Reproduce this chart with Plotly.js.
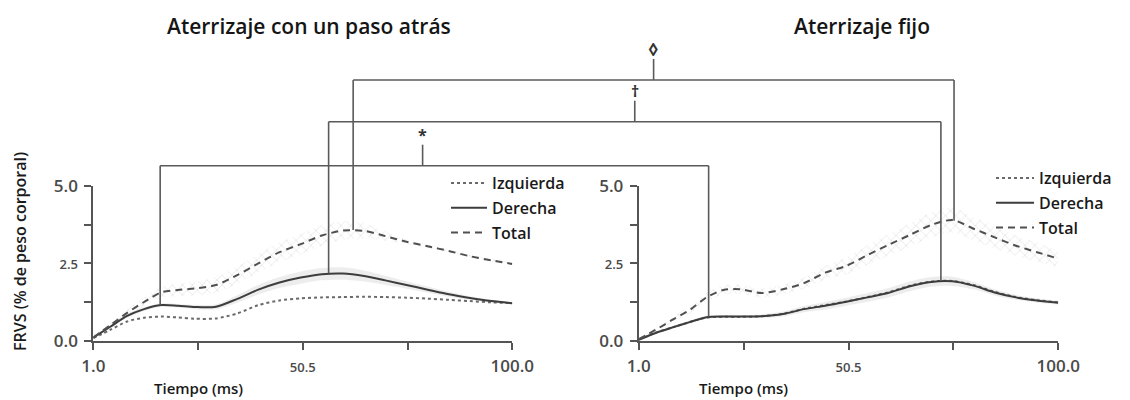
<!DOCTYPE html>
<html><head><meta charset="utf-8">
<script src="https://cdn.plot.ly/plotly-3.0.1.min.js"></script>
<style>body{margin:0;background:#fff}</style>
</head><body>
<div id="chart" style="width:1130px;height:400px"></div>
<script>
// ---- data ----
const tiempo = [1,5,9,13,17,21,25,30,35,40,45,50,55,60,65,70,75,80,85,90,95,100];
const seriesNames = ['Izquierda','Derecha','Total'];

// Aterrizaje con un paso atrás
const pasoIzquierda = [0.08,0.35,0.62,0.74,0.78,0.75,0.71,0.72,0.88,1.15,1.30,1.37,1.40,1.41,1.42,1.41,1.39,1.36,1.32,1.28,1.24,1.21];
const pasoDerecha   = [0.10,0.45,0.80,1.02,1.15,1.13,1.09,1.10,1.35,1.65,1.88,2.04,2.15,2.17,2.09,1.95,1.80,1.65,1.50,1.38,1.28,1.21];
const pasoTotal     = [0.10,0.50,0.90,1.25,1.56,1.64,1.69,1.80,2.12,2.50,2.86,3.12,3.40,3.56,3.55,3.38,3.20,3.05,2.90,2.73,2.60,2.48];
const pasoDerechaSD = [0.02,0.05,0.06,0.06,0.06,0.06,0.07,0.08,0.12,0.16,0.18,0.20,0.20,0.20,0.18,0.15,0.12,0.10,0.08,0.06,0.05,0.04];
const pasoTotalSD   = [0.03,0.08,0.12,0.15,0.18,0.20,0.22,0.25,0.28,0.30,0.32,0.33,0.33,0.30,0.25,0.15,0.08,0.05,0.05,0.05,0.05,0.05];

// Aterrizaje fijo
const fijoIzquierda = [0.03,0.26,0.43,0.60,0.75,0.77,0.77,0.79,0.87,1.03,1.15,1.27,1.41,1.57,1.78,1.91,1.93,1.80,1.58,1.41,1.31,1.24];
const fijoDerecha   = [0.03,0.25,0.43,0.60,0.76,0.78,0.78,0.79,0.86,1.02,1.13,1.26,1.40,1.55,1.76,1.90,1.92,1.78,1.56,1.40,1.30,1.23];
const fijoTotal     = [0.05,0.35,0.68,0.99,1.40,1.64,1.66,1.54,1.66,1.86,2.20,2.42,2.77,3.10,3.42,3.74,3.90,3.62,3.34,3.07,2.86,2.65];
const fijoDerechaSD = [0.02,0.03,0.04,0.05,0.05,0.05,0.05,0.06,0.08,0.10,0.12,0.13,0.14,0.15,0.16,0.16,0.15,0.12,0.10,0.08,0.07,0.06];
const fijoTotalSD   = [0.03,0.06,0.10,0.12,0.14,0.15,0.15,0.15,0.16,0.18,0.22,0.28,0.32,0.35,0.38,0.40,0.40,0.38,0.35,0.32,0.30,0.28];

// axes ticks
const xTickVals = [1, 25.75, 50.5, 75.25, 100];
const xTickText = ['1.0', '', '<span style="font-size:13px">50.5</span>', '', '100.0'];
const yTickVals = [0, 1.25, 2.5, 3.75, 5];
const yTickText = ['0.0', '', '<span style="font-size:13px">2.5</span>', '', '5.0'];

// significance brackets: anchor points on the curves
const bracketSymbols = ['*', '†', '◊'];
const bracketPasoX = [16.8, 56.6, 62.4];
const bracketPasoY = [1.15, 2.18, 3.58];
const bracketFijoX = [17.5, 72.3, 75.4];
const bracketFijoY = [0.78, 1.94, 3.88];

// ---- layout helpers ----
const W = 1130, H = 400;
const FONT = 'Open Sans, Lato, sans-serif';
const ink = '#555';
const xDom1 = [93.3 / W, 512.3 / W];
const xDom2 = [638.7 / W, 1058.3 / W];
const yDom = [1 - 340.7 / H, 1 - 186 / H];
const bracketLevels = [1 - 165.7 / H, 1 - 121.7 / H, 1 - 80 / H];
const stemFrac = [0.4785, 0.5, 0.5];

function axisX(dom) {
  return {
    domain: dom, range: [1, 100], tickmode: 'array', tickvals: xTickVals, ticktext: xTickText,
    ticks: 'outside', ticklen: 7, tickwidth: 2, tickcolor: ink,
    showline: true, linecolor: ink, linewidth: 2, showgrid: false, zeroline: false,
    tickfont: {family: FONT, size: 17, color: '#4a4a4a', weight: 600}, ticklabelstandoff: 2,
    fixedrange: true
  };
}
function axisY(dom) {
  return {
    domain: dom, range: [0, 5], tickmode: 'array', tickvals: yTickVals, ticktext: yTickText,
    ticks: 'outside', ticklen: 7, tickwidth: 2, tickcolor: ink,
    showline: true, linecolor: ink, linewidth: 2, showgrid: false, zeroline: false,
    tickfont: {family: FONT, size: 17, color: '#4a4a4a', weight: 600}, ticklabelstandoff: 3,
    fixedrange: true
  };
}
function toPaper(dom, range, v) {
  return dom[0] + (v - range[0]) / (range[1] - range[0]) * (dom[1] - dom[0]);
}

function band(x, y, sd, xa, ya, pattern) {
  const lo = y.map((v, i) => v - sd[i]);
  const hi = y.map((v, i) => v + sd[i]);
  const base = {x: x, xaxis: xa, yaxis: ya, mode: 'lines', showlegend: false, hoverinfo: 'skip',
    line: {width: 0, shape: 'spline', smoothing: 0.8}};
  const upper = Object.assign({}, base, {y: hi, fill: 'tonexty'});
  if (pattern) {
    upper.fillcolor = 'rgba(0,0,0,0.03)';
    upper.fillpattern = {shape: 'x', fgcolor: 'rgba(120,120,120,0.35)', bgcolor: 'rgba(0,0,0,0)', size: 7, solidity: 0.12};
  } else {
    upper.fillcolor = 'rgba(0,0,0,0.07)';
  }
  return [Object.assign({}, base, {y: lo}), upper];
}

const styles = [
  {color: '#6a6a6a', width: 2, dash: 'dot'},
  {color: '#3d3d3d', width: 2, dash: 'solid'},
  {color: '#505050', width: 2, dash: '7px,5px'}
];

function lines(x, ys, xa, ya, legendId) {
  return ys.map((y, i) => ({
    x: x, y: y, xaxis: xa, yaxis: ya, name: seriesNames[i], mode: 'lines',
    line: Object.assign({shape: 'spline', smoothing: 0.8}, styles[i]),
    legend: legendId, legendgroup: legendId + i
  }));
}

const traces = [].concat(
  band(tiempo, pasoDerecha, pasoDerechaSD, 'x', 'y', false),
  band(tiempo, pasoTotal, pasoTotalSD, 'x', 'y', true),
  band(tiempo, fijoDerecha, fijoDerechaSD, 'x2', 'y2', false),
  band(tiempo, fijoTotal, fijoTotalSD, 'x2', 'y2', true),
  lines(tiempo, [pasoIzquierda, pasoDerecha, pasoTotal], 'x', 'y', 'legend'),
  lines(tiempo, [fijoIzquierda, fijoDerecha, fijoTotal], 'x2', 'y2', 'legend2')
);

// brackets
const shapes = [];
const annotations = [];
const bline = {color: '#5a5a5a', width: 1.6};
bracketSymbols.forEach((sym, i) => {
  const lev = bracketLevels[i];
  // lower parts inside the plots (data coordinates)
  shapes.push({type: 'line', xref: 'x', yref: 'y', x0: bracketPasoX[i], x1: bracketPasoX[i], y0: bracketPasoY[i], y1: 5, line: bline});
  shapes.push({type: 'line', xref: 'x2', yref: 'y2', x0: bracketFijoX[i], x1: bracketFijoX[i], y0: bracketFijoY[i], y1: 5, line: bline});
  // upper parts, above the plots
  const xl = toPaper(xDom1, [1, 100], bracketPasoX[i]);
  const xr = toPaper(xDom2, [1, 100], bracketFijoX[i]);
  shapes.push({type: 'line', xref: 'paper', yref: 'paper', x0: xl, x1: xl, y0: yDom[1], y1: lev, line: bline});
  shapes.push({type: 'line', xref: 'paper', yref: 'paper', x0: xr, x1: xr, y0: yDom[1], y1: lev, line: bline});
  shapes.push({type: 'line', xref: 'paper', yref: 'paper', x0: xl, x1: xr, y0: lev, y1: lev, line: bline});
  const xs = xl + stemFrac[i] * (xr - xl);
  shapes.push({type: 'line', xref: 'paper', yref: 'paper', x0: xs, x1: xs, y0: lev, y1: lev + 21 / H, line: bline});
  annotations.push({xref: 'paper', yref: 'paper', x: xs, y: lev + 31 / H, text: sym, showarrow: false,
    xanchor: 'center', yanchor: 'middle', font: {family: FONT, size: sym === '◊' ? 18 : 16, color: '#333', weight: 700}});
});

// titles
const titleFont = {family: FONT, size: 21, color: '#151515', weight: 600};
annotations.push({xref: 'paper', yref: 'paper', x: 309 / W, y: 1 - 26 / H, text: 'Aterrizaje con un paso atrás', showarrow: false, xanchor: 'center', yanchor: 'middle', font: titleFont});
annotations.push({xref: 'paper', yref: 'paper', x: 862 / W, y: 1 - 26 / H, text: 'Aterrizaje fijo', showarrow: false, xanchor: 'center', yanchor: 'middle', font: titleFont});
// axis titles
const axFont = {family: FONT, size: 15, color: '#1a1a1a', weight: 600};
annotations.push({xref: 'x', yref: 'paper', x: 25.75, y: 1 - 388 / H, text: 'Tiempo (ms)', showarrow: false, xanchor: 'center', yanchor: 'middle', font: axFont});
annotations.push({xref: 'x2', yref: 'paper', x: 25.75, y: 1 - 388 / H, text: 'Tiempo (ms)', showarrow: false, xanchor: 'center', yanchor: 'middle', font: axFont});
annotations.push({xref: 'paper', yref: 'paper', x: 20 / W, y: 1 - 252 / H, text: 'FRVS (% de peso corporal)', textangle: -90, showarrow: false, xanchor: 'center', yanchor: 'middle', font: {family: FONT, size: 16, color: '#1a1a1a', weight: 600}});

const legendFont = {family: FONT, size: 16, color: '#1a1a1a', weight: 600};
const layout = {
  width: W, height: H, autosize: false,
  margin: {l: 0, r: 0, t: 0, b: 0, autoexpand: false},
  paper_bgcolor: '#fff', plot_bgcolor: 'rgba(0,0,0,0)',
  font: {family: FONT},
  xaxis: Object.assign(axisX(xDom1), {anchor: 'y'}),
  yaxis: Object.assign(axisY(yDom), {anchor: 'x'}),
  xaxis2: Object.assign(axisX(xDom2), {anchor: 'y2'}),
  yaxis2: Object.assign(axisY(yDom), {anchor: 'x2'}),
  legend: {x: 446 / W, y: 1 - 166 / H, xanchor: 'left', yanchor: 'top', bgcolor: 'rgba(0,0,0,0)', font: legendFont, tracegroupgap: 1, traceorder: 'grouped', itemwidth: 36},
  legend2: {x: 991 / W, y: 1 - 161 / H, xanchor: 'left', yanchor: 'top', bgcolor: 'rgba(0,0,0,0)', font: legendFont, tracegroupgap: 1, traceorder: 'grouped', itemwidth: 38},
  shapes: shapes,
  annotations: annotations,
  showlegend: true
};

Plotly.newPlot('chart', traces, layout, {displayModeBar: false, staticPlot: true});
</script>
</body></html>
